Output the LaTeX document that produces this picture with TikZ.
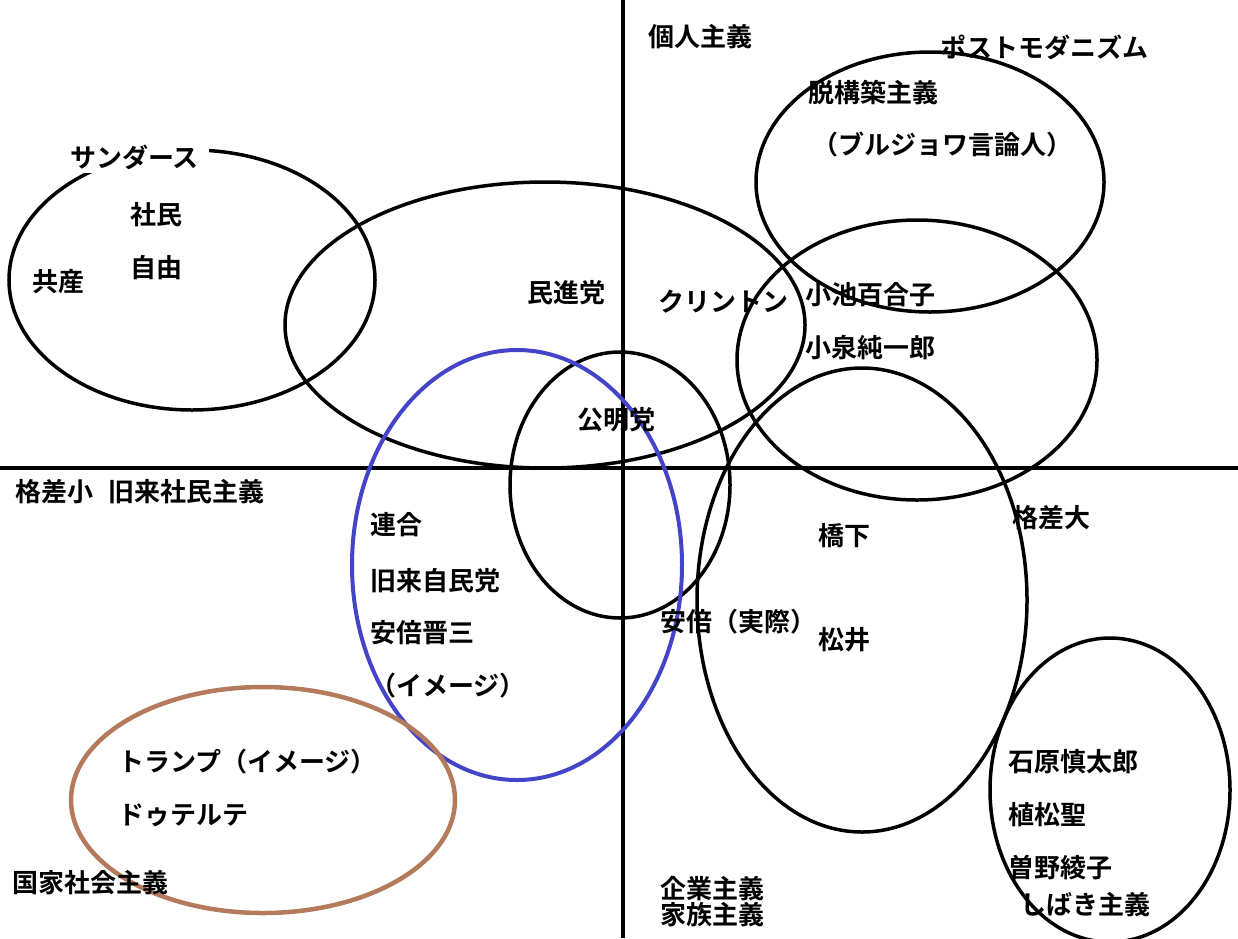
\documentclass[tikz,border=0pt]{standalone}
\usepackage{fontspec}
\setmainfont{Noto Sans CJK JP}[BoldFont={* Bold}]
\begin{document}
\begin{tikzpicture}[x=1pt,y=-1pt,
  lab/.style={anchor=west,inner sep=0pt,font=\fontsize{26}{28}\selectfont\bfseries},
  ell/.style={line width=3.5pt,black},
  axis/.style={line width=3.5pt,black}]
\useasboundingbox[fill=white] (0,0) rectangle (1238,938);
\definecolor{blu}{RGB}{68,68,200}
\definecolor{brn}{RGB}{180,122,92}
\coordinate (t) at (623,0); \coordinate (b) at (623,938);
\coordinate (l) at (0,468); \coordinate (r) at (1238,468);
\draw[axis] (t) -- (b);
\draw[axis] (l) -- (r);
\draw[ell] (192,280) ellipse [x radius=183,y radius=130];
\draw[ell] (545,325) ellipse [x radius=260,y radius=143];
\draw[ell] (930,182) ellipse [x radius=174,y radius=130];
\draw[ell] (917,360) ellipse [x radius=180,y radius=140];
\draw[ell] (620,485) ellipse [x radius=110,y radius=133];
\draw[ell] (862,600) ellipse [x radius=165,y radius=232];
\draw[ell] (1110,790) ellipse [x radius=120,y radius=152];
\draw[line width=4pt,blu] (517,565) ellipse [x radius=165,y radius=215];
\draw[line width=4.5pt,brn] (263,800) ellipse [x radius=192,y radius=113];
\node[lab,fill=white,inner xsep=10pt,inner ysep=4pt] (sa) at (60,157) {サンダース};
\node[lab] (n1) at (648,37) {個人主義};
\node[lab] (n2) at (940,47) {ポストモダニズム};
\node[lab] (n3) at (808,93) {脱構築主義};
\node[lab] (n4) at (812,145) {（ブルジョワ言論人）};
\node[lab] (n5) at (130,215) {社民};
\node[lab] (n6) at (130,268) {自由};
\node[lab] (n7) at (32,282) {共産};
\node[lab] (n8) at (527,293) {民進党};
\node[lab] (n9) at (658,302) {クリントン};
\node[lab] (n10) at (805,295) {小池百合子};
\node[lab] (n11) at (805,348) {小泉純一郎};
\node[lab] (n12) at (577,420) {公明党};
\node[lab] (n13) at (15,492) {格差小};
\node[lab] (n14) at (108,492) {旧来社民主義};
\node[lab] (n15) at (370,525) {連合};
\node[lab] (n16) at (1012,518) {格差大};
\node[lab] (n17) at (818,536) {橋下};
\node[lab] (n18) at (370,581) {旧来自民党};
\node[lab] (n19) at (370,633) {安倍晋三};
\node[lab] (n20) at (660,622) {安倍（実際）};
\node[lab] (n21) at (818,640) {松井};
\node[lab] (n22) at (370,686) {（イメージ）};
\node[lab] (n23) at (118,762) {トランプ（イメージ）};
\node[lab] (n24) at (118,815) {ドゥテルテ};
\node[lab] (n25) at (1008,762) {石原慎太郎};
\node[lab] (n26) at (1008,815) {植松聖};
\node[lab] (n27) at (12,883) {国家社会主義};
\node[lab] (n28) at (660,889) {企業主義};
\node[lab] (n29) at (660,915) {家族主義};
\node[lab] (n30) at (1008,868) {曽野綾子};
\node[lab] (n31) at (1020,905) {しばき主義};
\end{tikzpicture}
\end{document}
